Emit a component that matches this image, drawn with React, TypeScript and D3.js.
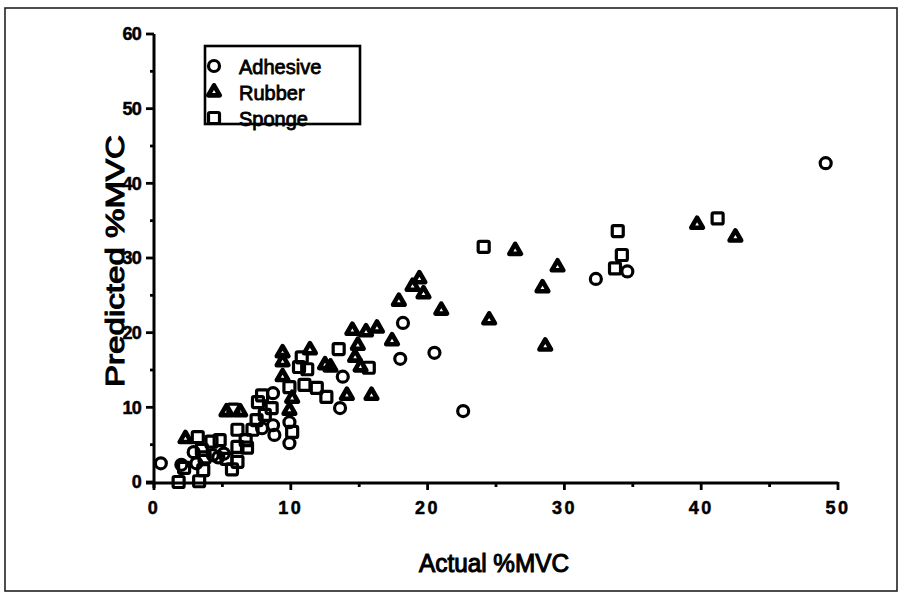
import * as d3 from "d3"

const adhesive: [number, number][] = [
  [0.5, 2.5], [2.0, 2.3], [2.9, 4.0], [3.1, 2.5], [4.3, 3.6], [4.7, 3.3], [5.1, 3.8],
  [7.9, 7.2], [8.7, 11.9], [8.7, 7.6], [8.8, 6.3], [9.9, 8.0], [9.9, 5.2],
  [13.6, 9.9], [13.8, 14.1], [18.0, 16.5], [18.2, 21.3], [20.5, 17.3], [22.6, 9.5],
  [32.3, 27.2], [34.6, 28.2], [49.1, 42.7],
]

const rubber: [number, number][] = [
  [2.3, 5.8], [5.3, 9.4], [6.3, 9.4], [9.4, 17.3], [9.4, 16.1], [9.4, 14.1], [10.1, 11.2],
  [9.9, 9.6], [11.4, 17.7], [12.5, 15.7], [12.9, 15.4], [14.1, 11.6], [15.9, 11.6],
  [14.5, 20.3], [15.5, 20.1], [16.3, 20.6], [14.9, 18.3], [14.7, 16.7], [15.1, 15.4],
  [17.4, 18.9], [17.9, 24.2], [18.9, 26.2], [19.4, 27.2], [19.7, 25.2], [21.0, 23.0],
  [24.5, 21.7], [26.4, 31.0], [28.4, 26.0], [28.6, 18.2], [29.5, 28.8], [39.7, 34.5],
  [42.5, 32.8],
]

const sponge: [number, number][] = [
  [1.8, 0.0], [3.3, 0.1], [3.6, 1.6], [2.2, 1.9], [3.5, 4.3], [3.7, 3.3], [4.2, 5.4],
  [4.8, 5.6], [5.3, 3.1], [5.7, 1.7], [6.1, 2.7], [6.1, 4.7], [6.8, 4.6], [6.7, 5.6],
  [5.8, 9.7], [6.1, 7.0], [7.2, 7.0], [7.5, 8.3], [7.6, 10.7], [8.1, 9.0], [7.9, 11.6],
  [8.6, 9.9], [9.9, 12.7], [10.1, 6.7], [10.6, 15.4], [10.8, 16.7], [11.2, 15.1],
  [11.0, 13.0], [11.9, 12.6], [12.6, 11.4], [13.5, 17.8], [15.7, 15.3], [24.1, 31.5],
  [33.9, 33.6], [34.2, 30.4], [33.7, 28.6], [41.2, 35.3], [3.2, 6.0],
]

const xTicks = [0, 10, 20, 30, 40, 50]
const xMinor = [5, 15, 25, 35, 45]
const yTicks = [0, 10, 20, 30, 40, 50, 60]
const yMinor = [5, 15, 25, 35, 45, 55]
const legendItems = [
  { label: "Adhesive", shape: "circle" },
  { label: "Rubber", shape: "triangle" },
  { label: "Sponge", shape: "square" },
]

const font = "'Liberation Sans', Arial, Helvetica, sans-serif"
const ink = "#000"

const x = d3.scaleLinear().domain([0, 50]).range([154, 838])
const y = d3.scaleLinear().domain([0, 60]).range([482, 34])

const triPath = d3.symbol().type(d3.symbolTriangle).size(58)()

function Marker({ shape, cx, cy }: { shape: string; cx: number; cy: number }) {
  if (shape === "circle") {
    return <circle cx={cx} cy={cy} r={5.5} fill="none" stroke={ink} strokeWidth={3.2} />
  }
  if (shape === "triangle") {
    return (
      <path
        d={triPath || ""}
        transform={`translate(${cx},${cy})`}
        fill="none"
        stroke={ink}
        strokeWidth={4.6}
        strokeLinejoin="round"
      />
    )
  }
  return (
    <rect x={cx - 5.5} y={cy - 5.5} width={11} height={11} rx={1.5} fill="none" stroke={ink} strokeWidth={3.2} />
  )
}

export default function App() {
  const x0 = x(0)
  const y0 = y(0)
  return (
    <div style={{ position: "fixed", left: 0, top: 0 }}>
      <svg width={903} height={599} style={{ display: "block", background: "#fff" }}>
        {/* scanned page frame */}
        <rect x={5} y={8} width={892} height={583} fill="none" stroke="#222" strokeWidth={1.6} />

        {/* y axis */}
        <line x1={x0} x2={x0} y1={y(60)} y2={y0 + 6} stroke={ink} strokeWidth={3} />
        {yTicks.map((t) => (
          <g key={"yt" + t}>
            <line x1={x0 - 8} x2={x0} y1={y(t)} y2={y(t)} stroke={ink} strokeWidth={2.8} />
            <text
              x={x0 - 13}
              y={y(t)}
              dy="0.36em"
              textAnchor="end"
              fontFamily={font}
              fontWeight="bold"
              fontSize={18}
              letterSpacing={-0.8}
              stroke={ink}
              strokeWidth={0.5}
            >
              {t}
            </text>
          </g>
        ))}
        {yMinor.map((t) => (
          <line key={"ym" + t} x1={x0 - 4} x2={x0} y1={y(t)} y2={y(t)} stroke={ink} strokeWidth={2.8} />
        ))}

        {/* x axis */}
        <line x1={x0 - 8} x2={x(50)} y1={y0 + 1} y2={y0 + 1} stroke={ink} strokeWidth={3} />
        {xTicks.map((t) => (
          <g key={"xt" + t}>
            <line x1={x(t)} x2={x(t)} y1={y0} y2={y0 + 8} stroke={ink} strokeWidth={2.8} />
            <text
              x={x(t)}
              y={y0 + 32}
              textAnchor="middle"
              fontFamily={font}
              fontWeight="bold"
              fontSize={18}
              letterSpacing={2.5}
              stroke={ink}
              strokeWidth={0.5}
            >
              {t}
            </text>
          </g>
        ))}
        {xMinor.map((t) => (
          <line key={"xm" + t} x1={x(t)} x2={x(t)} y1={y0} y2={y0 + 5} stroke={ink} strokeWidth={2.8} />
        ))}

        {/* axis titles */}
        <text
          x={494}
          y={572}
          textAnchor="middle"
          fontFamily={font}
          fontSize={26}
          stroke={ink}
          strokeWidth={1.1}
          textLength={150}
          lengthAdjust="spacingAndGlyphs"
        >
          Actual %MVC
        </text>
        <text
          transform={`translate(124,261) rotate(-90)`}
          textAnchor="middle"
          fontFamily={font}
          fontSize={26}
          stroke={ink}
          strokeWidth={1.1}
          textLength={252}
          lengthAdjust="spacingAndGlyphs"
        >
          Predicted %MVC
        </text>

        {/* points */}
        {sponge.map((d, i) => (
          <Marker key={"s" + i} shape="square" cx={x(d[0])} cy={y(d[1])} />
        ))}
        {rubber.map((d, i) => (
          <Marker key={"r" + i} shape="triangle" cx={x(d[0])} cy={y(d[1])} />
        ))}
        {adhesive.map((d, i) => (
          <Marker key={"a" + i} shape="circle" cx={x(d[0])} cy={y(d[1])} />
        ))}

        {/* legend */}
        <rect x={205} y={46} width={155} height={78} fill="#fff" stroke={ink} strokeWidth={2.6} />
        {legendItems.map((item, i) => (
          <g key={item.label}>
            <Marker shape={item.shape} cx={214} cy={66 + i * 26} />
            <text
              x={239}
              y={67 + i * 26}
              dy="0.36em"
              fontFamily={font}
              fontSize={20}
              stroke={ink}
              strokeWidth={0.8}
            >
              {item.label}
            </text>
          </g>
        ))}
      </svg>
    </div>
  )
}
